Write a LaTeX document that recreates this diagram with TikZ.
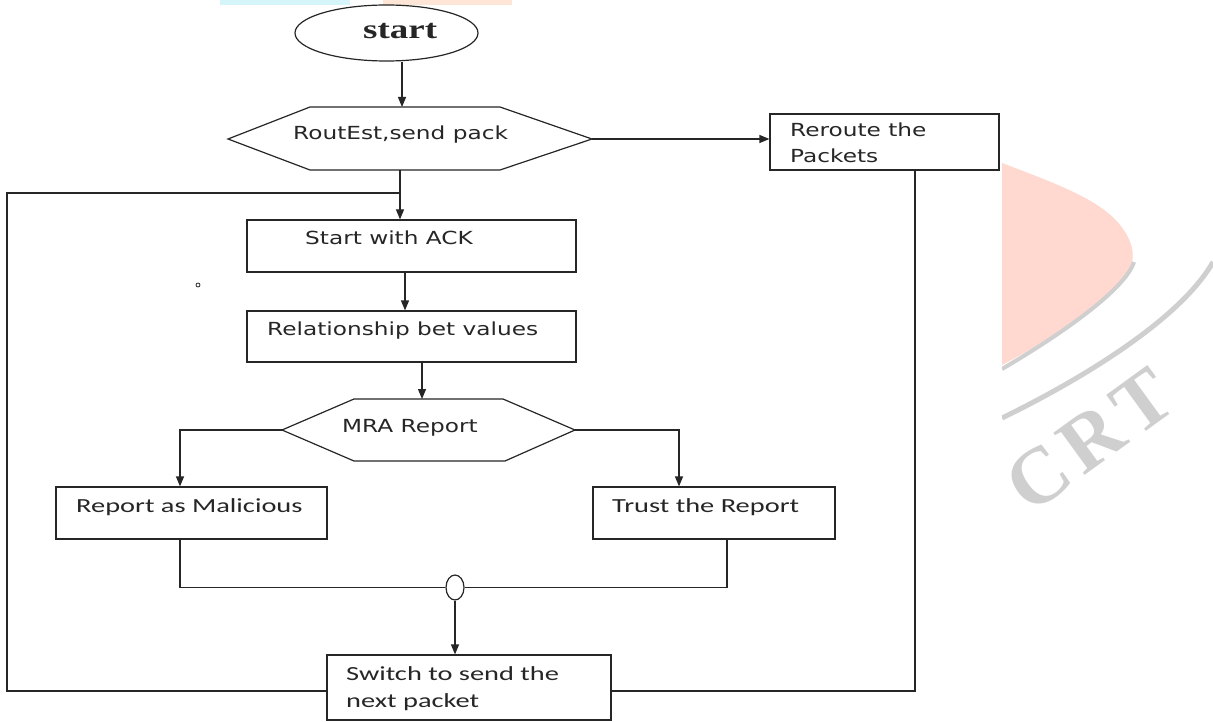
\documentclass[tikz,border=0pt]{standalone}
\usepackage{fontspec}
\usetikzlibrary{arrows.meta,shapes.geometric}
\newfontfamily\vfont[FakeStretch=1.29]{DejaVu Sans}
\newfontfamily\cfont[FakeStretch=1.42]{Carlito}
\newfontfamily\sfont[FakeStretch=1.37]{Liberation Serif Bold}
\newfontfamily\wfont{Liberation Serif Bold}
\definecolor{ln}{gray}{0.15}
\definecolor{pinkw}{HTML}{FFD8D0}
\definecolor{greyw}{HTML}{CFCFCF}
\definecolor{cyanw}{HTML}{D6F5FB}
\definecolor{peachw}{HTML}{FDE6D6}
\begin{document}
\begin{tikzpicture}[x=1pt,y=-1pt,
  lnst/.style={draw=ln, line width=1.2pt},
  arr/.style={lnst, -{Triangle[length=10pt,width=8pt]}},
  box/.style={lnst, fill=white, rectangle, inner sep=0pt},
  vtext/.style={anchor=base west, inner sep=0pt, text=ln, font=\vfont\fontsize{18}{22}\selectfont},
  ctext/.style={anchor=base west, inner sep=0pt, text=ln, font=\cfont\fontsize{20}{24}\selectfont},
  wmark/.style={rotate=36, text=greyw, inner sep=0pt, font=\wfont\fontsize{80}{80}\selectfont}
]
\useasboundingbox (0,0) rectangle (1213,722);
\fill[white] (0,0) rectangle (1213,722);
% watermark
\fill[pinkw] (1002,163) .. controls (1060,185) and (1100,200) .. (1120,225)
  .. controls (1140,250) and (1135,270) .. (1115,290)
  .. controls (1080,320) and (1040,345) .. (1002,365) -- cycle;
\draw[greyw, line width=4pt] (1134,262) .. controls (1125,290) and (1060,335) .. (1002,369);
\draw[greyw, line width=5pt] (1002,418) .. controls (1080,380) and (1180,320) .. (1213,262);
\node[wmark] (wm) at (1090,440) {C\hspace{8pt}R\hspace{8pt}T};
\fill[white] (0,5) rectangle (1002,722);
\fill[cyanw] (220,0) rectangle (350,5);
\fill[peachw] (383,0) rectangle (512,5);
% start
\node[ellipse, lnst, fill=white, minimum width=183pt, minimum height=56pt, inner sep=0pt] (start) at (386.5,33) {};
\node[anchor=base west, inner sep=0pt, text=ln, font=\sfont\fontsize{27}{27}\selectfont] (startt) at (363,39) {start};
% hexagon 1
\coordinate (h1W) at (228,139);
\coordinate (h1E) at (592,139);
\coordinate (h1N) at (402,107);
\coordinate (h1S) at (400,170);
\draw[lnst, fill=white] (h1W) -- (310,107) -- (500,107) -- (h1E) -- (500,170) -- (310,170) -- cycle;
\node[vtext] (h1t) at (293,140) {RoutEst,send pack};
\draw[arr] (start.south -| h1N) -- (h1N);
% boxes
\node[box, minimum width=329pt, minimum height=52pt] (ack) at (411.5,246) {};
\node[box, minimum width=229pt, minimum height=56pt] (rr) at (884.5,142) {};
\node[box, minimum width=329pt, minimum height=51pt] (rel) at (411.5,336.5) {};
\node[box, minimum width=271pt, minimum height=52pt] (mal) at (191.5,513) {};
\node[box, minimum width=242pt, minimum height=52pt] (tr) at (714,513) {};
\node[box, minimum width=284pt, minimum height=65pt] (sw) at (469,687.5) {};
\draw[arr] (h1S) -- (ack.north -| h1S);
\draw[arr] (h1E) -- (rr.west |- h1E);
\draw[arr] ([xshift=-6.5pt]ack.south) -- ([xshift=-6.5pt]ack.south |- rel.north);
% hexagon 2
\coordinate (h2W) at (282,430);
\coordinate (h2E) at (575,430);
\coordinate (h2N) at (422,399);
\draw[lnst, fill=white] (h2W) -- (354,399) -- (503,399) -- (h2E) -- (505,461) -- (354,461) -- cycle;
\draw[arr] ([xshift=10.5pt]rel.south) -- (h2N);
\draw[arr] (h2W) -| ([xshift=-11.5pt]mal.north);
\draw[arr] (h2E) -| ([xshift=-35pt]tr.north);
% merge
\node[ellipse, lnst, minimum width=18pt, minimum height=25pt, inner sep=0pt] (jn) at (455,587.5) {};
\draw[lnst] ([xshift=-11.5pt]mal.south) |- (jn.west);
\draw[lnst] ([xshift=13pt]tr.south) |- (jn.east);
\draw[arr] (jn.south) -- (jn.south |- sw.north);
% loops
\coordinate (lpL) at (7,691);
\coordinate (lpT) at (7,193);
\draw[lnst] (sw.west |- lpL) -- (lpL) -- (lpT) -- (lpT -| h1S);
\coordinate (rrb) at (915,170);
\draw[lnst] (rrb) -- (rrb |- lpL) -- (sw.east |- lpL);
% stray dot
\draw[ln, line width=0.8pt] (198,285) circle (2pt);
% texts
\node[vtext] (ackt) at (305,245) {Start with ACK};
\node[vtext] (relt) at (267,335) {Relationship bet values};
\node[vtext] (mrat) at (342,432) {MRA Report};
\node[vtext] (rrt1) at (790,137) {Reroute the};
\node[vtext] (rrt2) at (790,163) {Packets};
\node[ctext] (malt) at (76,512) {Report as Malicious};
\node[ctext] (trt) at (612,512) {Trust the Report};
\node[ctext] (swt1) at (346,680) {Switch to send the};
\node[ctext] (swt2) at (346,707) {next packet};
\end{tikzpicture}
\end{document}
